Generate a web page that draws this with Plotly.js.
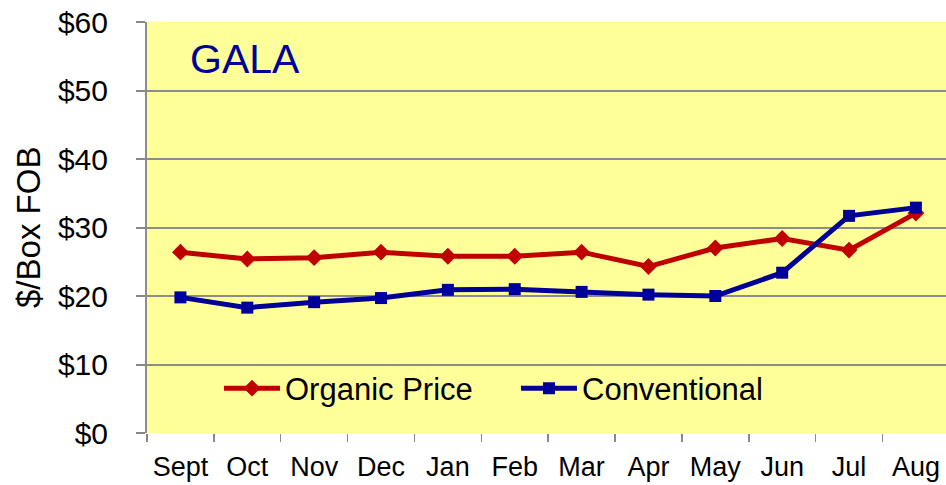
<!DOCTYPE html>
<html>
<head>
<meta charset="utf-8">
<script src="https://cdn.plot.ly/plotly-3.0.1.min.js"></script>
<style>html,body{margin:0;padding:0;background:#fff;}#chart{width:946px;height:485px;}</style>
</head>
<body>
<div id="chart"></div>
<script>
const months = ["Sept","Oct","Nov","Dec","Jan","Feb","Mar","Apr","May","Jun","Jul","Aug"];
const organicPrice = [26.4, 25.4, 25.6, 26.4, 25.8, 25.8, 26.4, 24.3, 27.0, 28.4, 26.7, 32.1];
const conventional = [19.8, 18.3, 19.1, 19.7, 20.9, 21.0, 20.6, 20.2, 20.0, 23.4, 31.7, 32.9];
const yTicks = [0, 10, 20, 30, 40, 50, 60];
const yTickLabels = yTicks.map(v => "$" + v);

const W = 946, H = 485, L = 147, R = 0, T = 22, B = 52;
const pw = W - L - R, ph = H - T - B;
const px = v => (v - L) / pw;
const py = v => (H - B - v) / ph;

const traces = [
  {
    x: months, y: organicPrice, name: "Organic Price", type: "scatter", mode: "lines+markers",
    line: {color: "#C00000", width: 5},
    marker: {symbol: "diamond", size: 13, color: "#C00000"}
  },
  {
    x: months, y: conventional, name: "Conventional", type: "scatter", mode: "lines+markers",
    line: {color: "#000099", width: 5},
    marker: {symbol: "square", size: 12, color: "#000099"}
  }
];

const layout = {
  width: W, height: H,
  margin: {l: L, r: R, t: T, b: B, pad: 0},
  paper_bgcolor: "#ffffff",
  plot_bgcolor: "#FFFF99",
  font: {family: "Liberation Sans, Arial, sans-serif", color: "#000"},
  showlegend: true,
  legend: {
    orientation: "h",
    x: px(219), xanchor: "left",
    y: py(388.5), yanchor: "middle",
    bgcolor: "rgba(0,0,0,0)",
    font: {size: 31, color: "#000"},
    entrywidth: 226, entrywidthmode: "pixels",
    itemwidth: 56
  },
  xaxis: {
    type: "category",
    categoryorder: "array", categoryarray: months,
    range: [-0.5, 11.45],
    tickson: "boundaries",
    ticks: "outside", ticklen: 8, tickwidth: 1.5, tickcolor: "#888888",
    showgrid: false, zeroline: false,
    showline: false,
    tickfont: {size: 27, color: "#000"},
    ticklabelstandoff: 15,
    fixedrange: true
  },
  yaxis: {
    range: [0, 60],
    tickmode: "array",
    tickvals: yTicks,
    ticktext: yTickLabels,
    ticks: "outside", ticklen: 9, tickwidth: 2, tickcolor: "#888888",
    showgrid: true, gridcolor: "#8c8c8c", gridwidth: 2,
    zeroline: false,
    showline: true, linecolor: "#8c8c8c", linewidth: 2,
    tickfont: {size: 30, color: "#000"},
    ticklabelstandoff: 22,
    fixedrange: true
  },
  annotations: [
    {
      text: "GALA", xref: "paper", yref: "paper",
      x: px(188), xanchor: "left", y: py(59), yanchor: "middle",
      showarrow: false, font: {size: 41, color: "#000099"}
    },
    {
      text: "$/Box FOB", xref: "paper", yref: "paper",
      x: px(28), xanchor: "center", y: py(228), yanchor: "middle",
      textangle: -90, showarrow: false, font: {size: 33, color: "#000"}
    }
  ]
};

Plotly.newPlot("chart", traces, layout, {displayModeBar: false, staticPlot: true});
</script>
</body>
</html>
